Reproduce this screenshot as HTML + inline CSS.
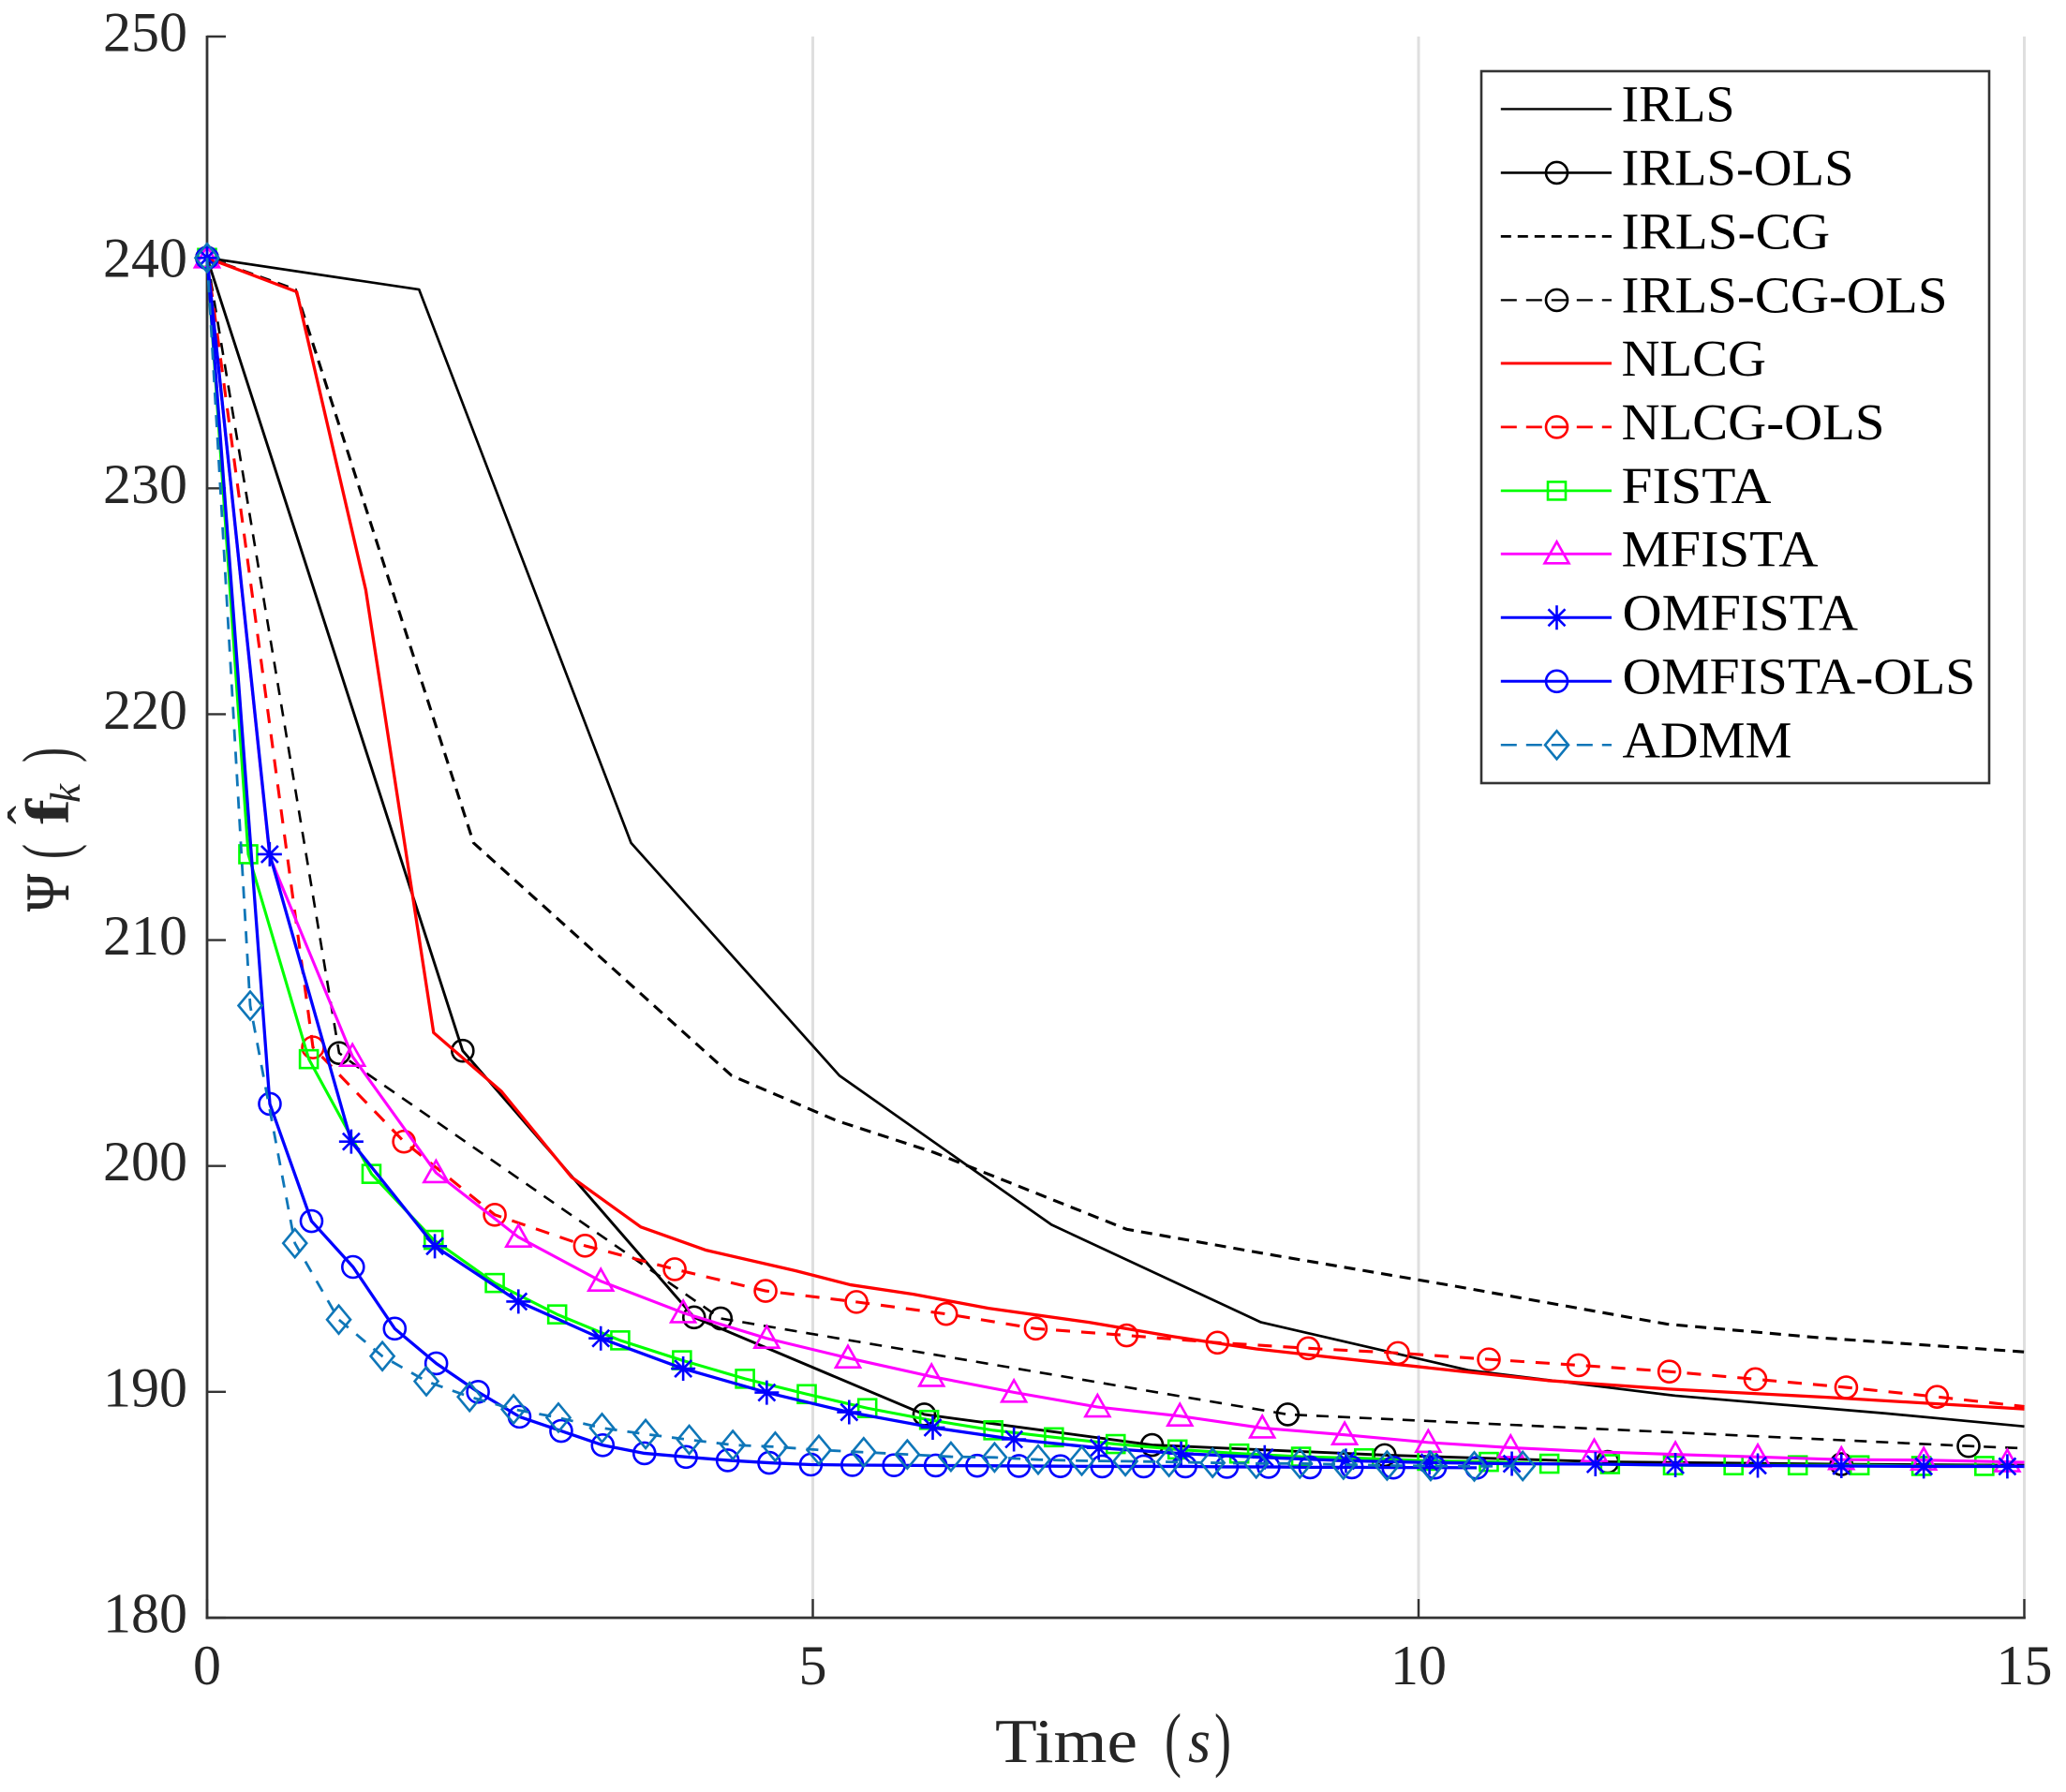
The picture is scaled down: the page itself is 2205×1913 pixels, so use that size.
<!DOCTYPE html>
<html lang="en">
<head>
<meta charset="utf-8">
<title>Objective value versus time</title>
<style>
html,body{margin:0;padding:0;background:#fff;}
svg{display:block;}
text{font-family:"Liberation Serif",serif;fill:#262626;}
.leg{font-size:55px;fill:#000;}
</style>
</head>
<body>
<svg id="chart" xmlns="http://www.w3.org/2000/svg" width="2205" height="1913" viewBox="0 0 2205 1913">
  <rect width="2205" height="1913" fill="#ffffff"/>
  <g id="grid"></g>
  <g id="axes"></g>
  <g id="series"></g>

  <g>
    <text x="1062" y="1881" font-size="67" textLength="152" lengthAdjust="spacingAndGlyphs">Time</text>
    <text x="1243" y="1882" font-size="76" textLength="18" lengthAdjust="spacingAndGlyphs">(</text>
    <text x="1268" y="1881" font-size="67" font-style="italic" textLength="24" lengthAdjust="spacingAndGlyphs">s</text>
    <text x="1296" y="1882" font-size="76" textLength="18" lengthAdjust="spacingAndGlyphs">)</text>
  </g>
  <g>
    <text transform="translate(73,973) rotate(-90)" font-size="66" textLength="40" lengthAdjust="spacingAndGlyphs" stroke="#262626" stroke-width="0.8">Ψ</text>
    <text transform="translate(76.5,917) rotate(-90)" font-size="76" textLength="16" lengthAdjust="spacingAndGlyphs">(</text>
    <text transform="translate(73,880) rotate(-90)" font-size="66" font-weight="bold" textLength="27" lengthAdjust="spacingAndGlyphs">f</text>
    <text transform="translate(50,880) rotate(-90)" font-size="60">ˆ</text>
    <text transform="translate(85,857) rotate(-90)" font-size="46" font-style="italic" textLength="20" lengthAdjust="spacingAndGlyphs">k</text>
    <text transform="translate(76.5,814) rotate(-90)" font-size="76" textLength="16" lengthAdjust="spacingAndGlyphs">)</text>
  </g>

  <g id="legend">
    <rect x="1581" y="76" width="542" height="760" fill="#ffffff" stroke="#333333" stroke-width="2.6"/>
    <g id="legend-samples"></g>
    <text class="leg" x="1730.5" y="129.4" textLength="121" lengthAdjust="spacingAndGlyphs">IRLS</text>
    <text class="leg" x="1730.5" y="197.4" textLength="248" lengthAdjust="spacingAndGlyphs">IRLS-OLS</text>
    <text class="leg" x="1730.5" y="265.4" textLength="222.6" lengthAdjust="spacingAndGlyphs">IRLS-CG</text>
    <text class="leg" x="1730.5" y="333.4" textLength="348" lengthAdjust="spacingAndGlyphs">IRLS-CG-OLS</text>
    <text class="leg" x="1730.5" y="400.9" textLength="154.5" lengthAdjust="spacingAndGlyphs">NLCG</text>
    <text class="leg" x="1730.5" y="468.9" textLength="281" lengthAdjust="spacingAndGlyphs">NLCG-OLS</text>
    <text class="leg" x="1730.5" y="536.9" textLength="160" lengthAdjust="spacingAndGlyphs">FISTA</text>
    <text class="leg" x="1730.5" y="604.3" textLength="210" lengthAdjust="spacingAndGlyphs">MFISTA</text>
    <text class="leg" x="1731.5" y="672.3" textLength="251.5" lengthAdjust="spacingAndGlyphs">OMFISTA</text>
    <text class="leg" x="1731.5" y="740.3" textLength="376.8" lengthAdjust="spacingAndGlyphs">OMFISTA-OLS</text>
    <text class="leg" x="1731.5" y="808.3" textLength="181" lengthAdjust="spacingAndGlyphs">ADMM</text>
  </g>
</svg>
<script>
// ---- Axis ticks ----
const xTickValues = [0, 5, 10, 15];
const yTickValues = [180, 190, 200, 210, 220, 230, 240, 250];
const xGridValues = [5, 10, 15];

// ---- Series data (time in s, objective value) ----
const irlsT = [0, 1.75, 3.5, 5.22, 6.97, 8.7, 10.41, 12.12, 13.85, 15];
const irlsV = [240.2, 238.8, 214.3, 204, 197.4, 193.08, 190.96, 189.83, 189.05, 188.47];

const irlsOlsT = [0, 2.11, 4.02, 5.92, 7.8, 9.72, 11.56, 13.49, 15];
const irlsOlsV = [240.2, 205.1, 193.3, 189, 187.65, 187.2, 186.9, 186.8, 186.75];

const irlsCgT = [0, 0.73, 2.2, 4.33, 5.2, 6.0, 7.59, 8.75, 10.28, 12.05, 13.3, 15];
const irlsCgV = [240.2, 238.8, 214.3, 204, 202, 200.6, 197.2, 196.1, 194.7, 193, 192.4, 191.77];

const irlsCgOlsT = [0, 1.09, 1.29, 4.24, 8.92, 14.54, 15];
const irlsCgOlsV = [240.2, 205, 204.2, 193.25, 189, 187.6, 187.5];

const nlcgT = [0, 0.74, 1.31, 1.87, 2.43, 3.01, 3.58, 4.12, 4.86, 5.31, 5.83, 6.45, 7.28, 7.97, 8.66, 9.35, 10.28, 11.07, 12.05, 13.37, 15];
const nlcgV = [240.2, 238.7, 225.5, 205.9, 203.3, 199.5, 197.3, 196.27, 195.36, 194.74, 194.32, 193.7, 193.08, 192.45, 191.9, 191.49, 190.95, 190.5, 190.13, 189.76, 189.24];

const nlcgOlsT = [0, 0.874, 1.625, 2.375, 3.12, 3.86, 4.61, 5.36, 6.1, 6.84, 7.59, 8.34, 9.09, 9.83, 10.58, 11.32, 12.07, 12.78, 13.53, 14.28, 15];
const nlcgOlsV = [240.2, 205.25, 201.08, 197.84, 196.47, 195.43, 194.47, 193.98, 193.45, 192.8, 192.5, 192.18, 191.93, 191.72, 191.44, 191.18, 190.9, 190.56, 190.2, 189.78, 189.35];

const fistaT = [0, 0.34, 0.84, 1.357, 1.87, 2.375, 2.89, 3.41, 3.92, 4.44, 4.95, 5.45, 5.96, 6.49, 6.99, 7.5, 8.01, 8.52, 9.03, 9.55, 10.07, 10.58, 11.08, 11.58, 12.1, 12.6, 13.13, 13.64, 14.15, 14.67, 15];
const fistaV = [240.2, 213.8, 204.73, 199.65, 196.73, 194.82, 193.43, 192.28, 191.4, 190.58, 189.9, 189.28, 188.76, 188.3, 187.99, 187.69, 187.45, 187.27, 187.13, 187.06, 186.95, 186.9, 186.82, 186.8, 186.75, 186.75, 186.75, 186.75, 186.72, 186.72, 186.7];

const mfistaT = [0, 0.517, 1.2, 1.89, 2.57, 3.25, 3.93, 4.62, 5.29, 5.98, 6.66, 7.35, 8.03, 8.71, 9.39, 10.08, 10.76, 11.45, 12.12, 12.8, 13.49, 14.17, 14.86, 15];
const mfistaV = [240.2, 213.7, 204.85, 199.7, 196.85, 194.9, 193.5, 192.37, 191.5, 190.68, 189.98, 189.33, 188.93, 188.4, 188.1, 187.76, 187.53, 187.35, 187.23, 187.12, 187, 186.98, 186.9, 186.88];

const omfistaT = [0, 0.517, 1.19, 1.88, 2.57, 3.25, 3.93, 4.62, 5.3, 5.99, 6.66, 7.36, 8.04, 8.73, 9.4, 10.09, 10.77, 11.46, 12.12, 12.8, 13.49, 14.17, 14.86, 15];
const omfistaV = [240.2, 213.8, 201.08, 196.45, 194, 192.37, 191.03, 189.97, 189.1, 188.42, 187.9, 187.52, 187.27, 187.1, 186.95, 186.87, 186.82, 186.8, 186.76, 186.74, 186.72, 186.7, 186.7, 186.7];

const omfistaOlsT = [0, 0.518, 0.862, 1.205, 1.549, 1.892, 2.236, 2.579, 2.923, 3.266, 3.61, 3.953, 4.297, 4.64, 4.984, 5.327, 5.67, 6.014, 6.357, 6.701, 7.044, 7.388, 7.731, 8.075, 8.418, 8.762, 9.105, 9.449, 9.792, 10.136, 10.48];
const omfistaOlsV = [240.2, 202.75, 197.56, 195.53, 192.8, 191.26, 190, 188.9, 188.27, 187.64, 187.28, 187.12, 186.97, 186.86, 186.78, 186.76, 186.75, 186.74, 186.73, 186.72, 186.71, 186.7, 186.7, 186.7, 186.68, 186.68, 186.66, 186.66, 186.65, 186.65, 186.64];

const admmT = [0, 0.356, 0.725, 1.087, 1.447, 1.81, 2.167, 2.53, 2.9, 3.26, 3.62, 3.98, 4.34, 4.69, 5.05, 5.42, 5.78, 6.14, 6.5, 6.86, 7.22, 7.58, 7.94, 8.3, 8.66, 9.02, 9.38, 9.74, 10.1, 10.46, 10.86];
const admmV = [240.2, 207.1, 196.58, 193.2, 191.58, 190.47, 189.78, 189.23, 188.86, 188.4, 188.13, 187.88, 187.65, 187.57, 187.43, 187.33, 187.23, 187.13, 187.1, 187, 186.95, 186.93, 186.9, 186.86, 186.83, 186.83, 186.78, 186.74, 186.72, 186.7, 186.72];

// ---- Axis functions ----
const xAxis = { min: 0, max: 15, left: 221, right: 2160.5 };
const yAxis = { min: 180, max: 250, bottom: 1727, top: 39 };
function xPos(t) { return xAxis.left + (t - xAxis.min) / (xAxis.max - xAxis.min) * (xAxis.right - xAxis.left); }
function yPos(v) { return yAxis.bottom - (v - yAxis.min) / (yAxis.max - yAxis.min) * (yAxis.bottom - yAxis.top); }

const NS = 'http://www.w3.org/2000/svg';
function make(tag, attrs, parent) {
  const el = document.createElementNS(NS, tag);
  for (const k in attrs) el.setAttribute(k, attrs[k]);
  parent.appendChild(el);
  return el;
}

// ---- Grid, axes, ticks ----
const gridG = document.getElementById('grid');
const axesG = document.getElementById('axes');
xGridValues.forEach(function (t) {
  const el = make('line', { x1: xPos(t), x2: xPos(t), y1: yAxis.top, y2: yAxis.bottom, stroke: '#dfdfdf', 'stroke-width': 3 }, gridG);
  
  
});
const yAxisLine = make('line', { x1: xAxis.left, x2: xAxis.left, y1: yAxis.top - 1, y2: yAxis.bottom + 1.4, stroke: '#333333', 'stroke-width': 2.8 }, axesG);


const xAxisLine = make('line', { x1: xAxis.left - 1.4, x2: xAxis.right + 1.4, y1: yAxis.bottom, y2: yAxis.bottom, stroke: '#333333', 'stroke-width': 2.8 }, axesG);



xTickValues.forEach(function (t) {
  const tick = make('line', { x1: xPos(t), x2: xPos(t), y1: yAxis.bottom, y2: yAxis.bottom - 20, stroke: '#333333', 'stroke-width': 2.4 }, axesG);
  
  
  const label = make('text', { x: xPos(t), y: 1798, 'text-anchor': 'middle', 'font-size': 60 }, axesG);
  
  
  label.textContent = String(t);
});
yTickValues.forEach(function (v) {
  const tick = make('line', { x1: xAxis.left, x2: xAxis.left + 20, y1: yPos(v), y2: yPos(v), stroke: '#333333', 'stroke-width': 2.4 }, axesG);
  
  
  const label = make('text', { x: 200, y: yPos(v) + 15.5, 'text-anchor': 'end', 'font-size': 60 }, axesG);
  
  
  label.textContent = String(v);
});

// ---- Markers ----
function drawMarker(kind, cx, cy, color, parent) {
  const g = make('g', { fill: 'none', stroke: color, 'stroke-width': 2.6 }, parent);
  if (kind === 'circle') {
    make('circle', { cx: cx, cy: cy, r: 11.5 }, g);
  } else if (kind === 'square') {
    make('rect', { x: cx - 9.5, y: cy - 9.5, width: 19, height: 19 }, g);
  } else if (kind === 'triangle') {
    make('polygon', { points: (cx - 13) + ',' + (cy + 10) + ' ' + (cx + 13) + ',' + (cy + 10) + ' ' + cx + ',' + (cy - 13) }, g);
  } else if (kind === 'star') {
    make('path', { d: 'M' + (cx - 13) + ' ' + cy + 'H' + (cx + 13) + 'M' + cx + ' ' + (cy - 13) + 'V' + (cy + 13) +
      'M' + (cx - 9) + ' ' + (cy - 9) + 'L' + (cx + 9) + ' ' + (cy + 9) +
      'M' + (cx - 9) + ' ' + (cy + 9) + 'L' + (cx + 9) + ' ' + (cy - 9) }, g);
  } else if (kind === 'diamond') {
    make('polygon', { points: (cx - 12.5) + ',' + cy + ' ' + cx + ',' + (cy - 15) + ' ' + (cx + 12.5) + ',' + cy + ' ' + cx + ',' + (cy + 15) }, g);
  }
  return g;
}

// ---- Series styling (noMark: indices of line vertices without a marker) ----
const seriesList = [
  { key: 'irls', t: irlsT, v: irlsV, color: '#000000', width: 2.7, dash: '', marker: '', noMark: [], legendY: 116.4 },
  { key: 'irls-ols', t: irlsOlsT, v: irlsOlsV, color: '#000000', width: 2.9, dash: '', marker: 'circle', noMark: [8], legendY: 184.4 },
  { key: 'irls-cg', t: irlsCgT, v: irlsCgV, color: '#000000', width: 3.1, dash: '12 8', marker: '', noMark: [], legendY: 252.4 },
  { key: 'irls-cg-ols', t: irlsCgOlsT, v: irlsCgOlsV, color: '#000000', width: 2.6, dash: '13 10', marker: 'circle', noMark: [2, 6], legendY: 320.4 },
  { key: 'nlcg', t: nlcgT, v: nlcgV, color: '#ff0000', width: 3.3, dash: '', marker: '', noMark: [], legendY: 387.9 },
  { key: 'nlcg-ols', t: nlcgOlsT, v: nlcgOlsV, color: '#ff0000', width: 3.1, dash: '15 12', marker: 'circle', noMark: [20], legendY: 455.9 },
  { key: 'fista', t: fistaT, v: fistaV, color: '#00ff00', width: 3.1, dash: '', marker: 'square', noMark: [30], legendY: 523.9 },
  { key: 'mfista', t: mfistaT, v: mfistaV, color: '#ff00ff', width: 3.1, dash: '', marker: 'triangle', noMark: [1, 23], legendY: 591.3 },
  { key: 'omfista', t: omfistaT, v: omfistaV, color: '#0000ff', width: 3.3, dash: '', marker: 'star', noMark: [23], legendY: 659.3 },
  { key: 'omfista-ols', t: omfistaOlsT, v: omfistaOlsV, color: '#0000ff', width: 3.3, dash: '', marker: 'circle', noMark: [], legendY: 727.3 },
  { key: 'admm', t: admmT, v: admmV, color: '#0e76b8', width: 2.8, dash: '13 11', marker: 'diamond', noMark: [], legendY: 795.3 }
];

const seriesG = document.getElementById('series');
const legendG = document.getElementById('legend-samples');
seriesList.forEach(function (s) {
  const g = make('g', {}, seriesG);
  
  
  const pts = s.t.map(function (t, i) { return xPos(t).toFixed(2) + ',' + yPos(s.v[i]).toFixed(2); }).join(' ');
  const line = make('polyline', { points: pts, fill: 'none', stroke: s.color, 'stroke-width': s.width, 'stroke-linejoin': 'round' }, g);
  if (s.dash) line.setAttribute('stroke-dasharray', s.dash);
  
  
  if (s.marker) {
    s.t.forEach(function (t, i) {
      if (s.noMark.indexOf(i) >= 0) return;
      const m = drawMarker(s.marker, xPos(t), yPos(s.v[i]), s.color, g);
      
      
    });
  }
  // legend sample
  const ls = make('g', {}, legendG);
  
  
  const sample = make('line', { x1: 1601.8, x2: 1720, y1: s.legendY, y2: s.legendY, stroke: s.color, 'stroke-width': s.width - 0.3 }, ls);
  if (s.dash) sample.setAttribute('stroke-dasharray', s.key === 'irls-cg' ? '11 7' : '17 10');
  if (s.marker) drawMarker(s.marker, 1661.5, s.legendY, s.color, ls);
});
</script>
</body>
</html>
